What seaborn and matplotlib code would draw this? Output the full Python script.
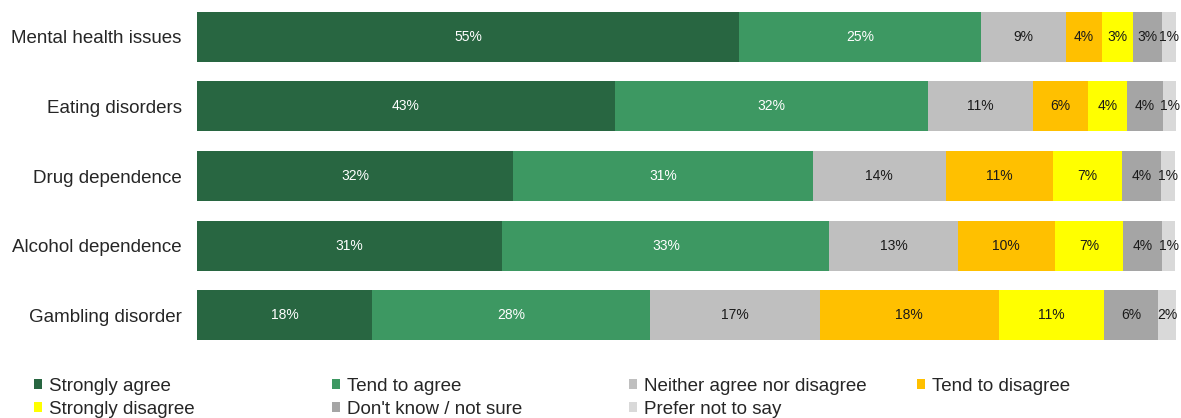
import numpy as np
import pandas as pd
import seaborn as sns
import matplotlib.pyplot as plt
from matplotlib.patches import Patch

categories = ['Mental health issues', 'Eating disorders', 'Drug dependence',
              'Alcohol dependence', 'Gambling disorder']
responses = ['Strongly agree', 'Tend to agree', 'Neither agree nor disagree',
             'Tend to disagree', 'Strongly disagree', "Don't know / not sure",
             'Prefer not to say']

strongly_agree = [55.4, 42.7, 32.3, 31.2, 17.9]
tend_agree = [24.7, 32.0, 30.6, 33.4, 28.4]
neither = [8.7, 10.7, 13.6, 13.1, 17.3]
tend_disagree = [3.6, 5.6, 10.9, 9.9, 18.3]
strongly_disagree = [3.2, 4.0, 7.1, 7.0, 10.7]
dont_know = [3.0, 3.7, 4.0, 4.0, 5.6]
prefer_not = [1.4, 1.4, 1.4, 1.3, 1.8]

colors = ['#286641', '#3d9862', '#bfbfbf', '#ffc000', '#ffff00', '#a5a5a5', '#d9d9d9']
label_colors = ['white', 'white', '#1a1a1a', '#1a1a1a', '#1a1a1a', '#1a1a1a', '#1a1a1a']

series = [strongly_agree, tend_agree, neither, tend_disagree,
          strongly_disagree, dont_know, prefer_not]
vals = np.array(series)
cum = vals.cumsum(axis=0)

sns.set_style('white')
plt.rcParams['font.family'] = ['Liberation Sans', 'DejaVu Sans']

fig = plt.figure(figsize=(11.81, 4.18), dpi=100)
ax = fig.add_axes([197 / 1181, 1 - 350 / 418, (1176 - 197) / 1181, 348 / 418])

# draw cumulative bars from the back so every segment shows
for k in range(len(responses) - 1, -1, -1):
    df = pd.DataFrame({'category': categories, 'total': cum[k]})
    sns.barplot(data=df, x='total', y='category', orient='h', color=colors[k],
                saturation=1, width=0.72, linewidth=0, ax=ax)

for k in range(len(responses)):
    for i, cat in enumerate(categories):
        mid = cum[k][i] - vals[k][i] / 2
        ax.text(mid, i, f'{round(vals[k][i])}%', ha='center', va='center',
                fontsize=10, color=label_colors[k])

ax.set_xlim(0, 100)
ax.set_ylim(4.5, -0.5)
ax.set_xlabel('')
ax.set_ylabel('')
ax.set_xticks([])
ax.tick_params(axis='y', length=0, pad=11, labelsize=13.5, labelcolor='#262626')
sns.despine(ax=ax, left=True, bottom=True)

handles = [Patch(facecolor=c, edgecolor='none') for c in colors]
cols = [[0, 4], [1, 5], [2, 6], [3]]
xs = [34, 332, 629, 917]
for xpos, idx in zip(xs, cols):
    leg = fig.legend([handles[j] for j in idx], [responses[j] for j in idx],
                     loc='upper left', bbox_to_anchor=(xpos / 1181, 1 - 378 / 418),
                     frameon=False, fontsize=13.5, handlelength=0.45,
                     handleheight=0.45, handletextpad=0.35, labelspacing=0.3,
                     borderaxespad=0, borderpad=0)
    for t in leg.get_texts():
        t.set_color('#262626')

fig.savefig('out.png', dpi=100)
